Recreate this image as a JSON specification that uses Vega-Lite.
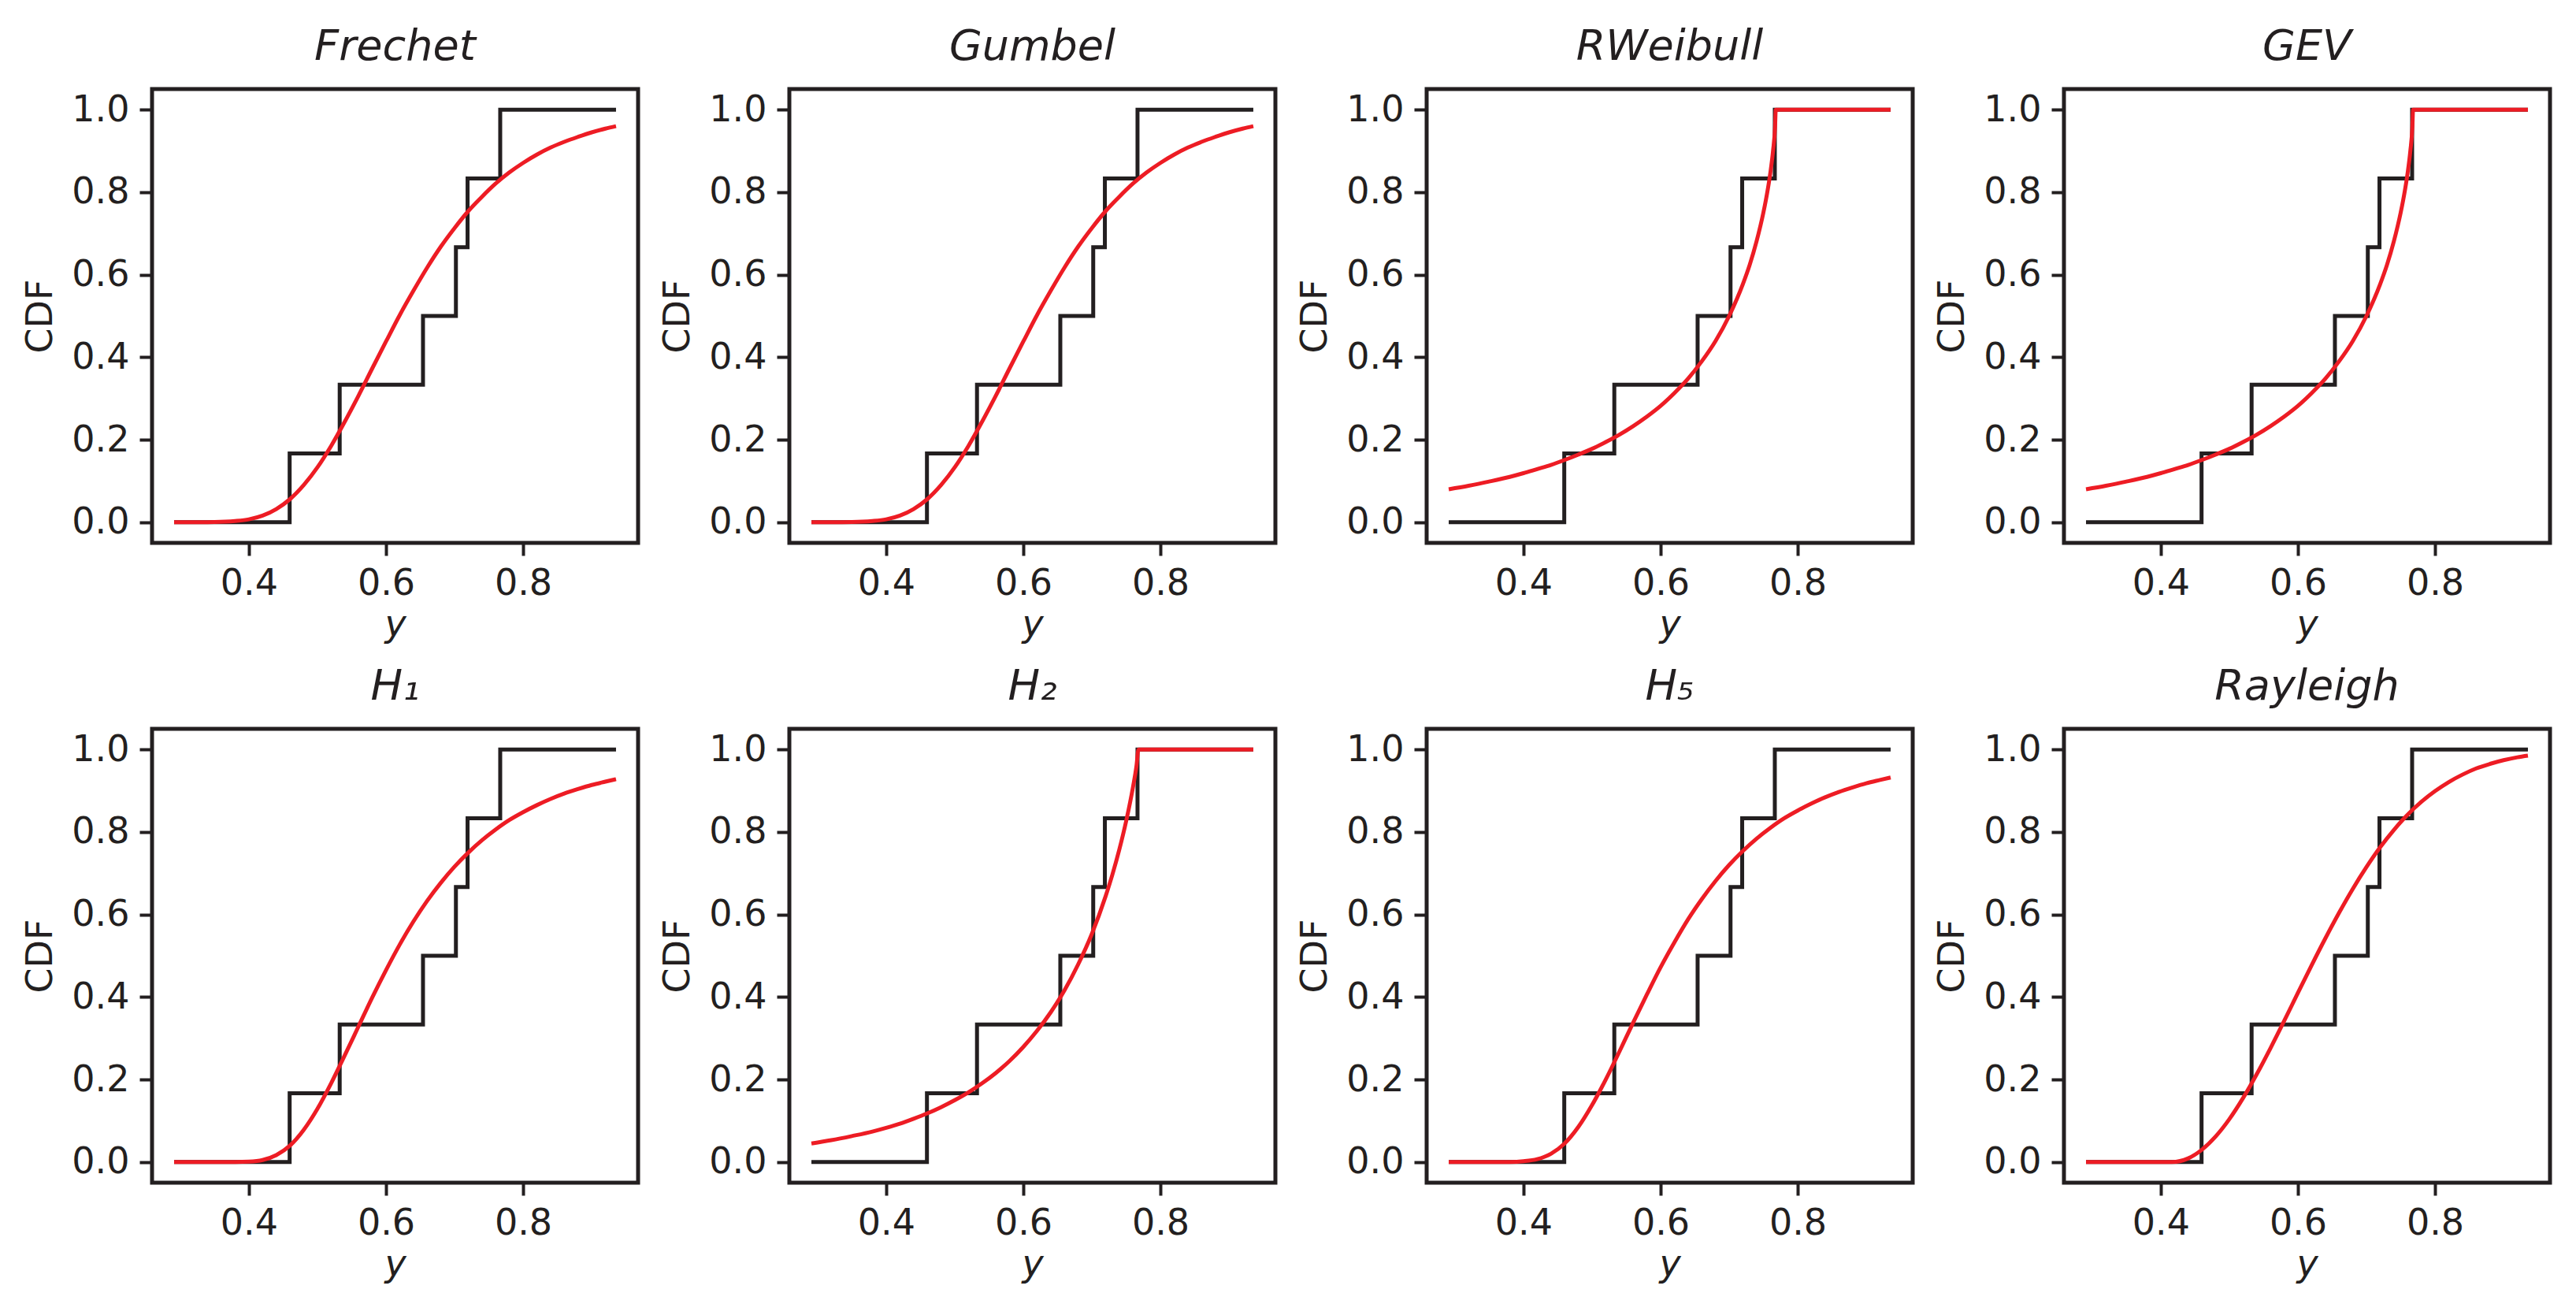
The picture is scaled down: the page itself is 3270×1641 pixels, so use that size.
{
  "$schema": "https://vega.github.io/schema/vega-lite/v6.json",
  "background": "white",
  "padding": {"left": 26, "top": 30, "right": 30, "bottom": 20},
  "datasets": {
    "ecdf": [
      {"x": 0.291, "F": 0},
      {"x": 0.4595, "F": 0.16667},
      {"x": 0.5325, "F": 0.33333},
      {"x": 0.654, "F": 0.5},
      {"x": 0.702, "F": 0.66667},
      {"x": 0.719, "F": 0.83333},
      {"x": 0.7666, "F": 1},
      {"x": 0.9355, "F": 1}
    ],
    "fit": [
      {"d": "Frechet", "x": 0.291, "F": 0}, {"d": "Frechet", "x": 0.32, "F": 0}, {"d": "Frechet", "x": 0.35, "F": 0.0005}, {"d": "Frechet", "x": 0.38, "F": 0.003}, {"d": "Frechet", "x": 0.40, "F": 0.007}, {"d": "Frechet", "x": 0.42, "F": 0.016}, {"d": "Frechet", "x": 0.44, "F": 0.032}, {"d": "Frechet", "x": 0.46, "F": 0.056}, {"d": "Frechet", "x": 0.48, "F": 0.090}, {"d": "Frechet", "x": 0.50, "F": 0.133}, {"d": "Frechet", "x": 0.52, "F": 0.185}, {"d": "Frechet", "x": 0.54, "F": 0.244}, {"d": "Frechet", "x": 0.56, "F": 0.307}, {"d": "Frechet", "x": 0.58, "F": 0.373}, {"d": "Frechet", "x": 0.60, "F": 0.438}, {"d": "Frechet", "x": 0.62, "F": 0.502}, {"d": "Frechet", "x": 0.64, "F": 0.561}, {"d": "Frechet", "x": 0.66, "F": 0.617}, {"d": "Frechet", "x": 0.68, "F": 0.668}, {"d": "Frechet", "x": 0.70, "F": 0.713}, {"d": "Frechet", "x": 0.72, "F": 0.754}, {"d": "Frechet", "x": 0.74, "F": 0.789}, {"d": "Frechet", "x": 0.76, "F": 0.821}, {"d": "Frechet", "x": 0.78, "F": 0.848}, {"d": "Frechet", "x": 0.80, "F": 0.871}, {"d": "Frechet", "x": 0.82, "F": 0.891}, {"d": "Frechet", "x": 0.84, "F": 0.908}, {"d": "Frechet", "x": 0.86, "F": 0.922}, {"d": "Frechet", "x": 0.88, "F": 0.934}, {"d": "Frechet", "x": 0.90, "F": 0.945}, {"d": "Frechet", "x": 0.92, "F": 0.954}, {"d": "Frechet", "x": 0.9355, "F": 0.960},

      {"d": "Gumbel", "x": 0.291, "F": 0}, {"d": "Gumbel", "x": 0.32, "F": 0}, {"d": "Gumbel", "x": 0.35, "F": 0.0005}, {"d": "Gumbel", "x": 0.38, "F": 0.003}, {"d": "Gumbel", "x": 0.40, "F": 0.007}, {"d": "Gumbel", "x": 0.42, "F": 0.016}, {"d": "Gumbel", "x": 0.44, "F": 0.032}, {"d": "Gumbel", "x": 0.46, "F": 0.056}, {"d": "Gumbel", "x": 0.48, "F": 0.090}, {"d": "Gumbel", "x": 0.50, "F": 0.133}, {"d": "Gumbel", "x": 0.52, "F": 0.185}, {"d": "Gumbel", "x": 0.54, "F": 0.244}, {"d": "Gumbel", "x": 0.56, "F": 0.307}, {"d": "Gumbel", "x": 0.58, "F": 0.373}, {"d": "Gumbel", "x": 0.60, "F": 0.438}, {"d": "Gumbel", "x": 0.62, "F": 0.502}, {"d": "Gumbel", "x": 0.64, "F": 0.561}, {"d": "Gumbel", "x": 0.66, "F": 0.617}, {"d": "Gumbel", "x": 0.68, "F": 0.668}, {"d": "Gumbel", "x": 0.70, "F": 0.713}, {"d": "Gumbel", "x": 0.72, "F": 0.754}, {"d": "Gumbel", "x": 0.74, "F": 0.789}, {"d": "Gumbel", "x": 0.76, "F": 0.821}, {"d": "Gumbel", "x": 0.78, "F": 0.848}, {"d": "Gumbel", "x": 0.80, "F": 0.871}, {"d": "Gumbel", "x": 0.82, "F": 0.891}, {"d": "Gumbel", "x": 0.84, "F": 0.908}, {"d": "Gumbel", "x": 0.86, "F": 0.922}, {"d": "Gumbel", "x": 0.88, "F": 0.934}, {"d": "Gumbel", "x": 0.90, "F": 0.945}, {"d": "Gumbel", "x": 0.92, "F": 0.954}, {"d": "Gumbel", "x": 0.9355, "F": 0.960},

      {"d": "RWeibull", "x": 0.291, "F": 0.080}, {"d": "RWeibull", "x": 0.32, "F": 0.0885}, {"d": "RWeibull", "x": 0.35, "F": 0.0987}, {"d": "RWeibull", "x": 0.38, "F": 0.110}, {"d": "RWeibull", "x": 0.40, "F": 0.119}, {"d": "RWeibull", "x": 0.42, "F": 0.129}, {"d": "RWeibull", "x": 0.44, "F": 0.139}, {"d": "RWeibull", "x": 0.46, "F": 0.151}, {"d": "RWeibull", "x": 0.48, "F": 0.164}, {"d": "RWeibull", "x": 0.50, "F": 0.178}, {"d": "RWeibull", "x": 0.52, "F": 0.1945}, {"d": "RWeibull", "x": 0.54, "F": 0.2125}, {"d": "RWeibull", "x": 0.56, "F": 0.233}, {"d": "RWeibull", "x": 0.58, "F": 0.256}, {"d": "RWeibull", "x": 0.60, "F": 0.282}, {"d": "RWeibull", "x": 0.62, "F": 0.313}, {"d": "RWeibull", "x": 0.64, "F": 0.348}, {"d": "RWeibull", "x": 0.66, "F": 0.390}, {"d": "RWeibull", "x": 0.68, "F": 0.439}, {"d": "RWeibull", "x": 0.70, "F": 0.500}, {"d": "RWeibull", "x": 0.72, "F": 0.577}, {"d": "RWeibull", "x": 0.73, "F": 0.624}, {"d": "RWeibull", "x": 0.74, "F": 0.681}, {"d": "RWeibull", "x": 0.75, "F": 0.751}, {"d": "RWeibull", "x": 0.755, "F": 0.794}, {"d": "RWeibull", "x": 0.76, "F": 0.846}, {"d": "RWeibull", "x": 0.764, "F": 0.900}, {"d": "RWeibull", "x": 0.767, "F": 0.959}, {"d": "RWeibull", "x": 0.768, "F": 1}, {"d": "RWeibull", "x": 0.80, "F": 1}, {"d": "RWeibull", "x": 0.9355, "F": 1},

      {"d": "GEV", "x": 0.291, "F": 0.080}, {"d": "GEV", "x": 0.32, "F": 0.0885}, {"d": "GEV", "x": 0.35, "F": 0.0987}, {"d": "GEV", "x": 0.38, "F": 0.110}, {"d": "GEV", "x": 0.40, "F": 0.119}, {"d": "GEV", "x": 0.42, "F": 0.129}, {"d": "GEV", "x": 0.44, "F": 0.139}, {"d": "GEV", "x": 0.46, "F": 0.151}, {"d": "GEV", "x": 0.48, "F": 0.164}, {"d": "GEV", "x": 0.50, "F": 0.178}, {"d": "GEV", "x": 0.52, "F": 0.1945}, {"d": "GEV", "x": 0.54, "F": 0.2125}, {"d": "GEV", "x": 0.56, "F": 0.233}, {"d": "GEV", "x": 0.58, "F": 0.256}, {"d": "GEV", "x": 0.60, "F": 0.282}, {"d": "GEV", "x": 0.62, "F": 0.313}, {"d": "GEV", "x": 0.64, "F": 0.348}, {"d": "GEV", "x": 0.66, "F": 0.390}, {"d": "GEV", "x": 0.68, "F": 0.439}, {"d": "GEV", "x": 0.70, "F": 0.500}, {"d": "GEV", "x": 0.72, "F": 0.577}, {"d": "GEV", "x": 0.73, "F": 0.624}, {"d": "GEV", "x": 0.74, "F": 0.681}, {"d": "GEV", "x": 0.75, "F": 0.751}, {"d": "GEV", "x": 0.755, "F": 0.794}, {"d": "GEV", "x": 0.76, "F": 0.846}, {"d": "GEV", "x": 0.764, "F": 0.900}, {"d": "GEV", "x": 0.767, "F": 0.959}, {"d": "GEV", "x": 0.768, "F": 1}, {"d": "GEV", "x": 0.80, "F": 1}, {"d": "GEV", "x": 0.9355, "F": 1},

      {"d": "H1", "x": 0.291, "F": 0}, {"d": "H1", "x": 0.34, "F": 0}, {"d": "H1", "x": 0.38, "F": 0.0001}, {"d": "H1", "x": 0.40, "F": 0.001}, {"d": "H1", "x": 0.42, "F": 0.005}, {"d": "H1", "x": 0.44, "F": 0.017}, {"d": "H1", "x": 0.46, "F": 0.040}, {"d": "H1", "x": 0.48, "F": 0.078}, {"d": "H1", "x": 0.50, "F": 0.129}, {"d": "H1", "x": 0.52, "F": 0.191}, {"d": "H1", "x": 0.54, "F": 0.259}, {"d": "H1", "x": 0.56, "F": 0.329}, {"d": "H1", "x": 0.58, "F": 0.399}, {"d": "H1", "x": 0.60, "F": 0.465}, {"d": "H1", "x": 0.62, "F": 0.527}, {"d": "H1", "x": 0.64, "F": 0.583}, {"d": "H1", "x": 0.66, "F": 0.633}, {"d": "H1", "x": 0.68, "F": 0.677}, {"d": "H1", "x": 0.70, "F": 0.716}, {"d": "H1", "x": 0.72, "F": 0.750}, {"d": "H1", "x": 0.74, "F": 0.780}, {"d": "H1", "x": 0.76, "F": 0.806}, {"d": "H1", "x": 0.78, "F": 0.829}, {"d": "H1", "x": 0.80, "F": 0.848}, {"d": "H1", "x": 0.82, "F": 0.865}, {"d": "H1", "x": 0.84, "F": 0.880}, {"d": "H1", "x": 0.86, "F": 0.893}, {"d": "H1", "x": 0.88, "F": 0.904}, {"d": "H1", "x": 0.90, "F": 0.914}, {"d": "H1", "x": 0.92, "F": 0.922}, {"d": "H1", "x": 0.9355, "F": 0.928},

      {"d": "H2", "x": 0.291, "F": 0.045}, {"d": "H2", "x": 0.32, "F": 0.053}, {"d": "H2", "x": 0.35, "F": 0.063}, {"d": "H2", "x": 0.38, "F": 0.074}, {"d": "H2", "x": 0.40, "F": 0.083}, {"d": "H2", "x": 0.42, "F": 0.093}, {"d": "H2", "x": 0.44, "F": 0.105}, {"d": "H2", "x": 0.46, "F": 0.118}, {"d": "H2", "x": 0.48, "F": 0.133}, {"d": "H2", "x": 0.50, "F": 0.150}, {"d": "H2", "x": 0.52, "F": 0.169}, {"d": "H2", "x": 0.54, "F": 0.191}, {"d": "H2", "x": 0.56, "F": 0.216}, {"d": "H2", "x": 0.58, "F": 0.245}, {"d": "H2", "x": 0.60, "F": 0.279}, {"d": "H2", "x": 0.62, "F": 0.318}, {"d": "H2", "x": 0.64, "F": 0.363}, {"d": "H2", "x": 0.66, "F": 0.416}, {"d": "H2", "x": 0.68, "F": 0.479}, {"d": "H2", "x": 0.70, "F": 0.553}, {"d": "H2", "x": 0.72, "F": 0.644}, {"d": "H2", "x": 0.73, "F": 0.697}, {"d": "H2", "x": 0.74, "F": 0.757}, {"d": "H2", "x": 0.75, "F": 0.826}, {"d": "H2", "x": 0.76, "F": 0.909}, {"d": "H2", "x": 0.765, "F": 0.959}, {"d": "H2", "x": 0.768, "F": 1}, {"d": "H2", "x": 0.80, "F": 1}, {"d": "H2", "x": 0.9355, "F": 1},

      {"d": "H5", "x": 0.291, "F": 0}, {"d": "H5", "x": 0.34, "F": 0}, {"d": "H5", "x": 0.38, "F": 0.0002}, {"d": "H5", "x": 0.40, "F": 0.002}, {"d": "H5", "x": 0.42, "F": 0.007}, {"d": "H5", "x": 0.44, "F": 0.020}, {"d": "H5", "x": 0.46, "F": 0.045}, {"d": "H5", "x": 0.48, "F": 0.085}, {"d": "H5", "x": 0.50, "F": 0.138}, {"d": "H5", "x": 0.52, "F": 0.200}, {"d": "H5", "x": 0.54, "F": 0.268}, {"d": "H5", "x": 0.56, "F": 0.338}, {"d": "H5", "x": 0.58, "F": 0.406}, {"d": "H5", "x": 0.60, "F": 0.472}, {"d": "H5", "x": 0.62, "F": 0.532}, {"d": "H5", "x": 0.64, "F": 0.588}, {"d": "H5", "x": 0.66, "F": 0.637}, {"d": "H5", "x": 0.68, "F": 0.681}, {"d": "H5", "x": 0.70, "F": 0.720}, {"d": "H5", "x": 0.72, "F": 0.754}, {"d": "H5", "x": 0.74, "F": 0.784}, {"d": "H5", "x": 0.76, "F": 0.810}, {"d": "H5", "x": 0.78, "F": 0.833}, {"d": "H5", "x": 0.80, "F": 0.852}, {"d": "H5", "x": 0.82, "F": 0.869}, {"d": "H5", "x": 0.84, "F": 0.884}, {"d": "H5", "x": 0.86, "F": 0.897}, {"d": "H5", "x": 0.88, "F": 0.908}, {"d": "H5", "x": 0.90, "F": 0.918}, {"d": "H5", "x": 0.92, "F": 0.926}, {"d": "H5", "x": 0.9355, "F": 0.932},

      {"d": "Rayleigh", "x": 0.291, "F": 0}, {"d": "Rayleigh", "x": 0.40, "F": 0}, {"d": "Rayleigh", "x": 0.416, "F": 0}, {"d": "Rayleigh", "x": 0.44, "F": 0.009}, {"d": "Rayleigh", "x": 0.46, "F": 0.030}, {"d": "Rayleigh", "x": 0.48, "F": 0.062}, {"d": "Rayleigh", "x": 0.50, "F": 0.104}, {"d": "Rayleigh", "x": 0.52, "F": 0.155}, {"d": "Rayleigh", "x": 0.54, "F": 0.213}, {"d": "Rayleigh", "x": 0.56, "F": 0.276}, {"d": "Rayleigh", "x": 0.58, "F": 0.342}, {"d": "Rayleigh", "x": 0.60, "F": 0.410}, {"d": "Rayleigh", "x": 0.62, "F": 0.477}, {"d": "Rayleigh", "x": 0.64, "F": 0.542}, {"d": "Rayleigh", "x": 0.66, "F": 0.604}, {"d": "Rayleigh", "x": 0.68, "F": 0.662}, {"d": "Rayleigh", "x": 0.70, "F": 0.715}, {"d": "Rayleigh", "x": 0.72, "F": 0.763}, {"d": "Rayleigh", "x": 0.74, "F": 0.805}, {"d": "Rayleigh", "x": 0.76, "F": 0.842}, {"d": "Rayleigh", "x": 0.78, "F": 0.873}, {"d": "Rayleigh", "x": 0.80, "F": 0.899}, {"d": "Rayleigh", "x": 0.82, "F": 0.921}, {"d": "Rayleigh", "x": 0.84, "F": 0.939}, {"d": "Rayleigh", "x": 0.86, "F": 0.954}, {"d": "Rayleigh", "x": 0.88, "F": 0.965}, {"d": "Rayleigh", "x": 0.90, "F": 0.974}, {"d": "Rayleigh", "x": 0.92, "F": 0.981}, {"d": "Rayleigh", "x": 0.9355, "F": 0.985}
    ]
  },
  "columns": 4,
  "spacing": {"row": 236, "column": 192},
  "bounds": "flush",
  "concat": [
    {"title": "Frechet", "width": 617, "height": 576, "layer": [
      {"data": {"name": "ecdf"}, "mark": {"type": "line", "interpolate": "step-after", "color": "#231f20", "strokeWidth": 5},
       "encoding": {"x": {"field": "x", "type": "quantitative", "scale": {"domain": [0.2588, 0.9677], "nice": false, "zero": false}, "axis": {"values": [0.4, 0.6, 0.8], "format": ".1f", "title": "y", "titleFontStyle": "italic"}},
                    "y": {"field": "F", "type": "quantitative", "scale": {"domain": [-0.05, 1.05], "nice": false}, "axis": {"values": [0, 0.2, 0.4, 0.6, 0.8, 1], "format": ".1f", "title": "CDF"}}}},
      {"data": {"name": "fit"}, "transform": [{"filter": "datum.d === 'Frechet'"}], "mark": {"type": "line", "interpolate": "monotone", "color": "#ed1c24", "strokeWidth": 5},
       "encoding": {"x": {"field": "x", "type": "quantitative"}, "y": {"field": "F", "type": "quantitative"}}}
    ]},
    {"title": "Gumbel", "width": 617, "height": 576, "layer": [
      {"data": {"name": "ecdf"}, "mark": {"type": "line", "interpolate": "step-after", "color": "#231f20", "strokeWidth": 5},
       "encoding": {"x": {"field": "x", "type": "quantitative", "scale": {"domain": [0.2588, 0.9677], "nice": false, "zero": false}, "axis": {"values": [0.4, 0.6, 0.8], "format": ".1f", "title": "y", "titleFontStyle": "italic"}},
                    "y": {"field": "F", "type": "quantitative", "scale": {"domain": [-0.05, 1.05], "nice": false}, "axis": {"values": [0, 0.2, 0.4, 0.6, 0.8, 1], "format": ".1f", "title": "CDF"}}}},
      {"data": {"name": "fit"}, "transform": [{"filter": "datum.d === 'Gumbel'"}], "mark": {"type": "line", "interpolate": "monotone", "color": "#ed1c24", "strokeWidth": 5},
       "encoding": {"x": {"field": "x", "type": "quantitative"}, "y": {"field": "F", "type": "quantitative"}}}
    ]},
    {"title": "RWeibull", "width": 617, "height": 576, "layer": [
      {"data": {"name": "ecdf"}, "mark": {"type": "line", "interpolate": "step-after", "color": "#231f20", "strokeWidth": 5},
       "encoding": {"x": {"field": "x", "type": "quantitative", "scale": {"domain": [0.2588, 0.9677], "nice": false, "zero": false}, "axis": {"values": [0.4, 0.6, 0.8], "format": ".1f", "title": "y", "titleFontStyle": "italic"}},
                    "y": {"field": "F", "type": "quantitative", "scale": {"domain": [-0.05, 1.05], "nice": false}, "axis": {"values": [0, 0.2, 0.4, 0.6, 0.8, 1], "format": ".1f", "title": "CDF"}}}},
      {"data": {"name": "fit"}, "transform": [{"filter": "datum.d === 'RWeibull'"}], "mark": {"type": "line", "interpolate": "monotone", "color": "#ed1c24", "strokeWidth": 5},
       "encoding": {"x": {"field": "x", "type": "quantitative"}, "y": {"field": "F", "type": "quantitative"}}}
    ]},
    {"title": "GEV", "width": 617, "height": 576, "layer": [
      {"data": {"name": "ecdf"}, "mark": {"type": "line", "interpolate": "step-after", "color": "#231f20", "strokeWidth": 5},
       "encoding": {"x": {"field": "x", "type": "quantitative", "scale": {"domain": [0.2588, 0.9677], "nice": false, "zero": false}, "axis": {"values": [0.4, 0.6, 0.8], "format": ".1f", "title": "y", "titleFontStyle": "italic"}},
                    "y": {"field": "F", "type": "quantitative", "scale": {"domain": [-0.05, 1.05], "nice": false}, "axis": {"values": [0, 0.2, 0.4, 0.6, 0.8, 1], "format": ".1f", "title": "CDF"}}}},
      {"data": {"name": "fit"}, "transform": [{"filter": "datum.d === 'GEV'"}], "mark": {"type": "line", "interpolate": "monotone", "color": "#ed1c24", "strokeWidth": 5},
       "encoding": {"x": {"field": "x", "type": "quantitative"}, "y": {"field": "F", "type": "quantitative"}}}
    ]},
    {"title": "H₁", "width": 617, "height": 576, "layer": [
      {"data": {"name": "ecdf"}, "mark": {"type": "line", "interpolate": "step-after", "color": "#231f20", "strokeWidth": 5},
       "encoding": {"x": {"field": "x", "type": "quantitative", "scale": {"domain": [0.2588, 0.9677], "nice": false, "zero": false}, "axis": {"values": [0.4, 0.6, 0.8], "format": ".1f", "title": "y", "titleFontStyle": "italic"}},
                    "y": {"field": "F", "type": "quantitative", "scale": {"domain": [-0.05, 1.05], "nice": false}, "axis": {"values": [0, 0.2, 0.4, 0.6, 0.8, 1], "format": ".1f", "title": "CDF"}}}},
      {"data": {"name": "fit"}, "transform": [{"filter": "datum.d === 'H1'"}], "mark": {"type": "line", "interpolate": "monotone", "color": "#ed1c24", "strokeWidth": 5},
       "encoding": {"x": {"field": "x", "type": "quantitative"}, "y": {"field": "F", "type": "quantitative"}}}
    ]},
    {"title": "H₂", "width": 617, "height": 576, "layer": [
      {"data": {"name": "ecdf"}, "mark": {"type": "line", "interpolate": "step-after", "color": "#231f20", "strokeWidth": 5},
       "encoding": {"x": {"field": "x", "type": "quantitative", "scale": {"domain": [0.2588, 0.9677], "nice": false, "zero": false}, "axis": {"values": [0.4, 0.6, 0.8], "format": ".1f", "title": "y", "titleFontStyle": "italic"}},
                    "y": {"field": "F", "type": "quantitative", "scale": {"domain": [-0.05, 1.05], "nice": false}, "axis": {"values": [0, 0.2, 0.4, 0.6, 0.8, 1], "format": ".1f", "title": "CDF"}}}},
      {"data": {"name": "fit"}, "transform": [{"filter": "datum.d === 'H2'"}], "mark": {"type": "line", "interpolate": "monotone", "color": "#ed1c24", "strokeWidth": 5},
       "encoding": {"x": {"field": "x", "type": "quantitative"}, "y": {"field": "F", "type": "quantitative"}}}
    ]},
    {"title": "H₅", "width": 617, "height": 576, "layer": [
      {"data": {"name": "ecdf"}, "mark": {"type": "line", "interpolate": "step-after", "color": "#231f20", "strokeWidth": 5},
       "encoding": {"x": {"field": "x", "type": "quantitative", "scale": {"domain": [0.2588, 0.9677], "nice": false, "zero": false}, "axis": {"values": [0.4, 0.6, 0.8], "format": ".1f", "title": "y", "titleFontStyle": "italic"}},
                    "y": {"field": "F", "type": "quantitative", "scale": {"domain": [-0.05, 1.05], "nice": false}, "axis": {"values": [0, 0.2, 0.4, 0.6, 0.8, 1], "format": ".1f", "title": "CDF"}}}},
      {"data": {"name": "fit"}, "transform": [{"filter": "datum.d === 'H5'"}], "mark": {"type": "line", "interpolate": "monotone", "color": "#ed1c24", "strokeWidth": 5},
       "encoding": {"x": {"field": "x", "type": "quantitative"}, "y": {"field": "F", "type": "quantitative"}}}
    ]},
    {"title": "Rayleigh", "width": 617, "height": 576, "layer": [
      {"data": {"name": "ecdf"}, "mark": {"type": "line", "interpolate": "step-after", "color": "#231f20", "strokeWidth": 5},
       "encoding": {"x": {"field": "x", "type": "quantitative", "scale": {"domain": [0.2588, 0.9677], "nice": false, "zero": false}, "axis": {"values": [0.4, 0.6, 0.8], "format": ".1f", "title": "y", "titleFontStyle": "italic"}},
                    "y": {"field": "F", "type": "quantitative", "scale": {"domain": [-0.05, 1.05], "nice": false}, "axis": {"values": [0, 0.2, 0.4, 0.6, 0.8, 1], "format": ".1f", "title": "CDF"}}}},
      {"data": {"name": "fit"}, "transform": [{"filter": "datum.d === 'Rayleigh'"}], "mark": {"type": "line", "interpolate": "monotone", "color": "#ed1c24", "strokeWidth": 5},
       "encoding": {"x": {"field": "x", "type": "quantitative"}, "y": {"field": "F", "type": "quantitative"}}}
    ]}
  ],
  "config": {
    "view": {"stroke": "#231f20", "strokeWidth": 5},
    "font": "DejaVu Sans",
    "title": {"font": "DejaVu Sans", "fontSize": 54, "fontStyle": "italic", "fontWeight": "normal", "color": "#231f20", "baseline": "alphabetic", "offset": 26, "anchor": "middle"},
    "axis": {"domain": false, "grid": false, "ticks": true, "tickSize": 16, "tickWidth": 4, "tickColor": "#231f20", "labelFont": "DejaVu Sans", "labelFontSize": 46, "labelColor": "#231f20", "labelPadding": 13, "labelFlush": false, "labelOverlap": false, "titleFont": "DejaVu Sans", "titleFontSize": 46, "titleFontWeight": "normal", "titleColor": "#231f20"},
    "axisX": {"titlePadding": 7},
    "axisY": {"titlePadding": 15}
  }
}
